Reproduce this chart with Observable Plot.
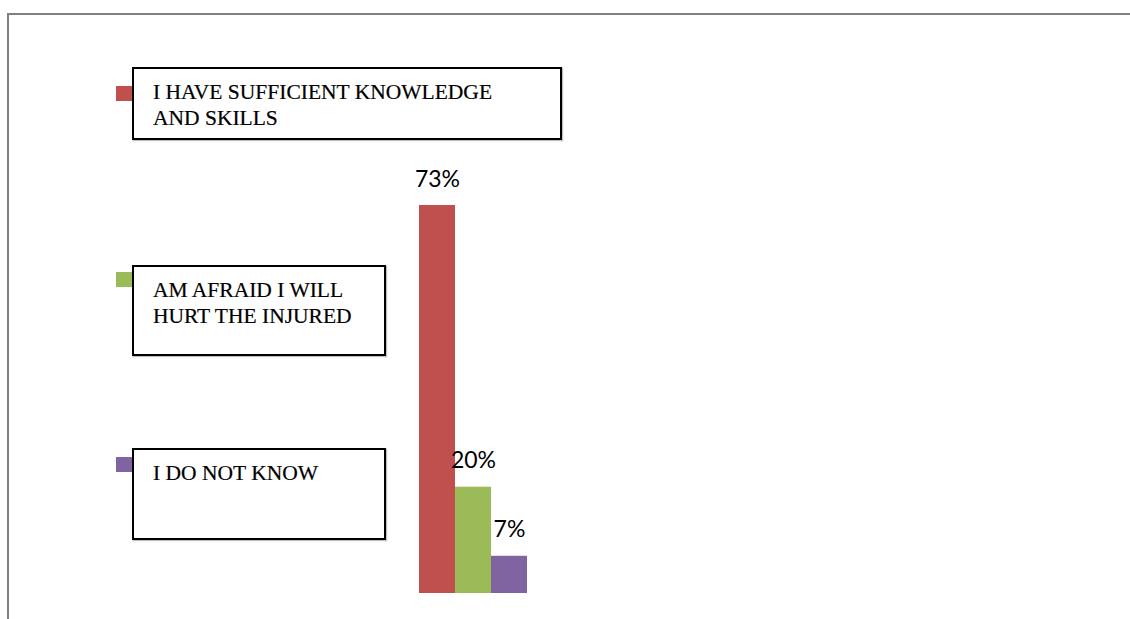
<!DOCTYPE html>
<html>
<head>
<meta charset="utf-8">
<script src="https://cdn.jsdelivr.net/npm/d3@7"></script>
<script src="https://cdn.jsdelivr.net/npm/@observablehq/plot@0.6"></script>
<style>
  html, body { margin: 0; padding: 0; background: #fff; }
  #wrap { position: relative; width: 1130px; height: 619px; overflow: hidden; }
  #frame { position: absolute; left: 7px; top: 13px; right: -10px; bottom: -10px;
           border-top: 2px solid #808080; border-left: 2px solid #808080; pointer-events: none; }
  .lg-box { position: absolute; box-sizing: border-box; border: 2px solid #000; background: #fff;
            font-family: "Liberation Serif", "Times New Roman", serif; font-size: 21.5px; line-height: 26px;
            color: #000; padding: 10px 0 0 19px; box-shadow: 1px 1px 1px rgba(0,0,0,0.25);
            -webkit-text-stroke: 0.2px #000; }
  .lg-sw { position: absolute; width: 16px; height: 15px; }
</style>
</head>
<body>
<div id="wrap"><div id="frame"></div></div>
<script>
// ---- data ----
const categories = ["I HAVE SUFFICIENT KNOWLEDGE AND SKILLS", "AM AFRAID I WILL HURT THE INJURED", "I DO NOT KNOW"];
const legendLines = [["I HAVE SUFFICIENT KNOWLEDGE", "AND SKILLS"], ["AM AFRAID I WILL", "HURT THE INJURED"], ["I DO NOT KNOW"]];
const values = [73, 20, 7];
const colors = ["#C0504D", "#9BBB59", "#8064A2"];

// ---- layout (not data) ----
const legendLayout = [
  {left: 132, top: 67, width: 430, height: 73, swTop: 86},
  {left: 132, top: 265, width: 254, height: 91, swTop: 272},
  {left: 132, top: 448, width: 254, height: 92, swTop: 457}
];

const rows = categories.map((c, i) => ({category: c, value: values[i], label: values[i] + "%"}));

const chart = Plot.plot({
  width: 1130,
  height: 619,
  margin: 0,
  style: {background: "transparent"},
  x: {type: "band", domain: categories, range: [418, 528], padding: 0, axis: null},
  y: {domain: [0, 100], range: [593, 61.5], axis: null},
  color: {domain: categories, range: colors},
  marks: [
    Plot.barY(rows, {x: "category", y: "value", fill: "category"}),
    Plot.text(rows, {x: "category", y: "value", text: "label", lineAnchor: "bottom", dy: -19,
                     fontSize: 23, fontFamily: "Lato, 'Open Sans', sans-serif", fill: "#000"})
  ]
});
chart.style.position = "absolute";
chart.style.left = "0px";
chart.style.top = "0px";
const wrap = document.getElementById("wrap");
wrap.appendChild(chart);

// legend
categories.forEach((c, i) => {
  const L = legendLayout[i];
  const sw = document.createElement("div");
  sw.className = "lg-sw";
  sw.style.left = (L.left - 16) + "px";
  sw.style.top = L.swTop + "px";
  sw.style.background = colors[i];
  wrap.appendChild(sw);
  const box = document.createElement("div");
  box.className = "lg-box";
  box.style.left = L.left + "px";
  box.style.top = L.top + "px";
  box.style.width = L.width + "px";
  box.style.height = L.height + "px";
  box.innerHTML = legendLines[i].join("<br>");
  wrap.appendChild(box);
});
</script>
</body>
</html>
